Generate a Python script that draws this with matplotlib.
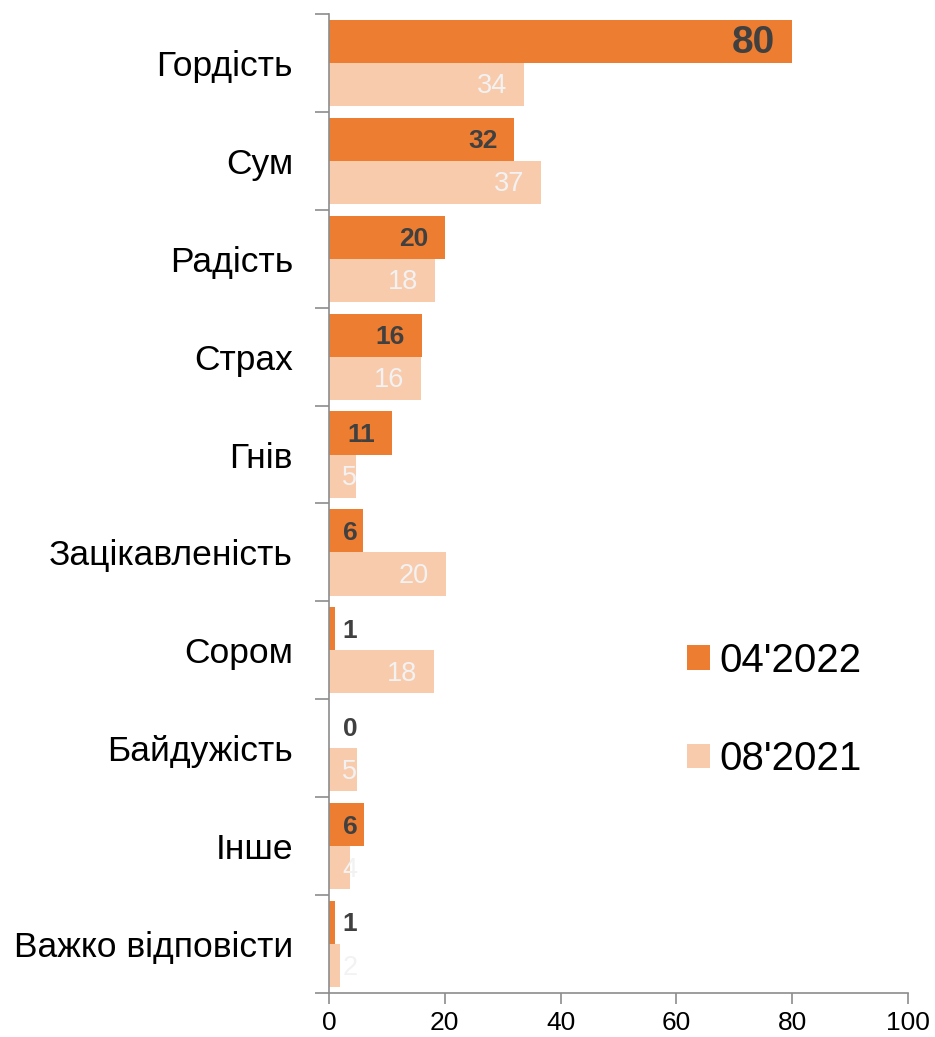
import matplotlib
matplotlib.use("Agg")
import matplotlib.pyplot as plt
from matplotlib.patches import Patch
from matplotlib.ticker import FixedLocator

categories = ["Гордість", "Сум", "Радість", "Страх", "Гнів", "Зацікавленість",
              "Сором", "Байдужість", "Інше", "Важко відповісти"]
series_2022 = [80, 32, 20, 16, 10.9, 5.9, 1, 0, 6, 1]
series_2021 = [33.6, 36.6, 18.3, 15.9, 4.7, 20.2, 18.1, 4.9, 3.6, 1.9]
legend_labels = ["04'2022", "08'2021"]
x_ticks = [0, 20, 40, 60, 80, 100]

FAM = ["Liberation Sans", "DejaVu Sans"]
plt.rcParams["font.family"] = FAM

C_DARK = "#ED7D31"
C_LIGHT = "#F8CBAD"
GRAY = "#8C8C8C"

fig = plt.figure(figsize=(9.35, 10.37), dpi=100)
ax = fig.add_axes([329 / 935, (1037 - 993) / 1037, 579 / 935, 979 / 1037])

n = len(categories)
pos = list(range(n))
h = 0.44
ax.barh([p - h / 2 for p in pos], series_2022, height=h, color=C_DARK, edgecolor="none")
ax.barh([p + h / 2 for p in pos], series_2021, height=h, color=C_LIGHT, edgecolor="none")

for p, v in zip(pos, series_2022):
    xr = max(v - 2.9, 4.9)
    fs = 28 if v >= 50 else 19
    ax.text(xr, p - h / 2 + 0.02, f"{v:.0f}", ha="right", va="center",
            fontsize=fs, fontweight="bold", color="#404040")
for p, v in zip(pos, series_2021):
    xr = max(v - 2.9, 4.9)
    ax.text(xr, p + h / 2 + 0.02, f"{v:.0f}", ha="right", va="center",
            fontsize=19.5, color="#F2F2F2")

ax.set_xlim(0, 100)
ax.set_ylim(n - 0.5, -0.5)
ax.set_xticks(x_ticks)
ax.set_xticklabels([str(t) for t in x_ticks], fontsize=19)
ax.set_yticks(pos)
ax.set_yticklabels(categories, fontsize=25.5)
ax.yaxis.set_minor_locator(FixedLocator([p - 0.5 for p in pos] + [n - 0.5]))
ax.tick_params(axis="y", which="major", length=0, pad=26)
ax.tick_params(axis="y", which="minor", length=10, color=GRAY, width=1.2)
ax.tick_params(axis="x", which="major", length=8, color=GRAY, width=1.2, pad=5)

for s in ["top", "right"]:
    ax.spines[s].set_visible(False)
for s in ["left", "bottom"]:
    ax.spines[s].set_color(GRAY)
    ax.spines[s].set_linewidth(1.2)

handles = [Patch(facecolor=C_DARK, edgecolor="none"), Patch(facecolor=C_LIGHT, edgecolor="none")]
ax.legend(handles, legend_labels, loc="center left", bbox_to_anchor=(0.618, 0.289),
          frameon=False, fontsize=29, handlelength=0.57, handleheight=0.57,
          handletextpad=0.25, labelspacing=1.5, borderpad=0, borderaxespad=0)

fig.savefig("out.png", dpi=100)
